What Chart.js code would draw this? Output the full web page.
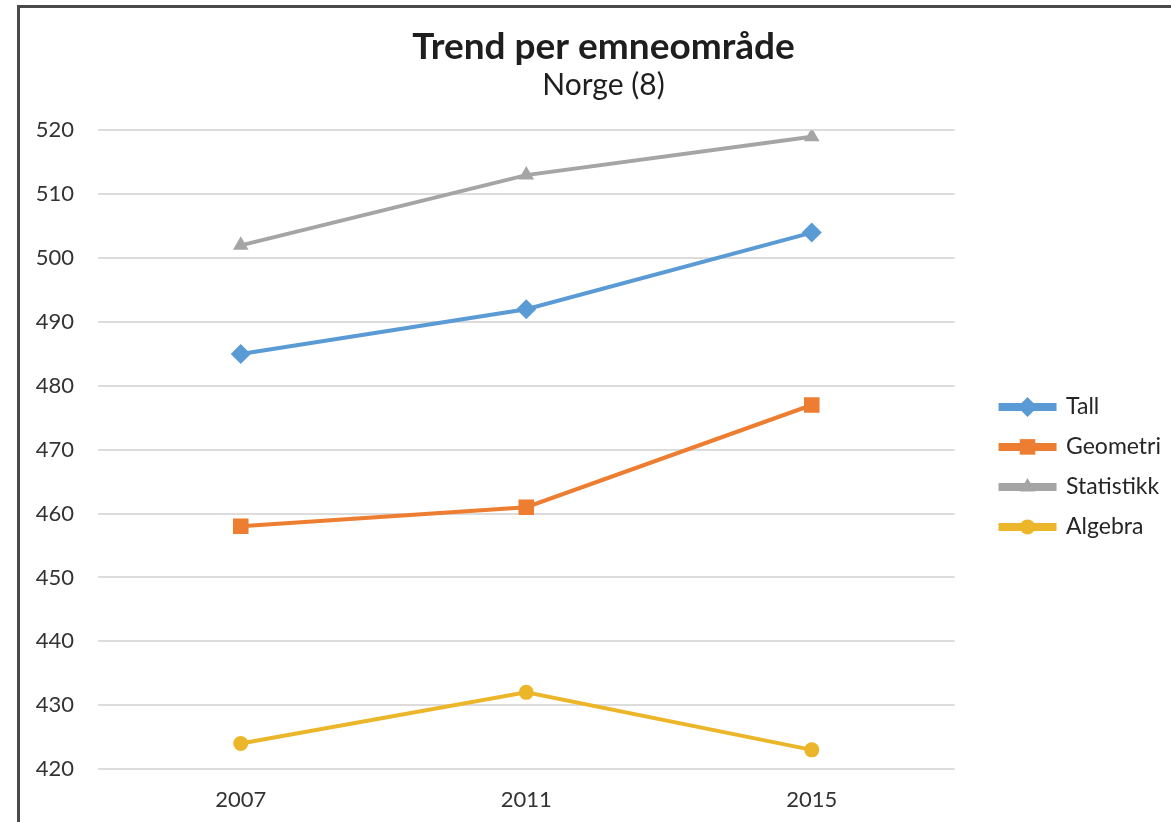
<!DOCTYPE html>
<html>
<head>
<meta charset="utf-8">
<script src="https://cdn.jsdelivr.net/npm/chart.js@4.4.1/dist/chart.umd.min.js"></script>
<style>
  html, body { margin: 0; padding: 0; background: #fff; }
  #wrap { position: relative; width: 1171px; height: 822px; overflow: hidden; }
  #frame { position: absolute; left: 17px; top: 5px; width: 1200px; height: 900px; border: 3px solid #4a4a4a; box-sizing: border-box; }
  canvas { position: absolute; left: 0; top: 0; }
</style>
</head>
<body>
<div id="wrap">
  <div id="frame"></div>
  <canvas id="trend" width="1171" height="822"></canvas>
</div>
<script>
// data
var years = ['2007', '2011', '2015'];
var tall = [485, 492, 504];
var geometri = [458, 461, 477];
var statistikk = [502, 513, 519];
var algebra = [424, 432, 423];

var FONT = 'Lato, "Open Sans", sans-serif';

function serie(label, data, color, style, radius) {
  return {
    label: label,
    data: data,
    borderColor: color,
    backgroundColor: color,
    borderWidth: 4,
    pointStyle: style,
    pointRadius: radius,
    pointHoverRadius: radius,
    pointBorderWidth: 0,
    tension: 0
  };
}

// puts the series marker in the middle of each legend line
var legendMarkers = {
  id: 'legendMarkers',
  afterDraw: function (chart) {
    var lg = chart.legend;
    if (!lg || !lg.legendHitBoxes) return;
    var c = chart.ctx;
    lg.legendHitBoxes.forEach(function (box, i) {
      var ds = chart.data.datasets[i];
      c.save();
      c.fillStyle = ds.backgroundColor;
      c.strokeStyle = ds.backgroundColor;
      Chart.helpers.drawPoint(c, {
        pointStyle: ds.pointStyle,
        radius: ds.pointRadius,
        rotation: 0,
        borderWidth: 0
      }, box.left + 27, box.top + box.height / 2);
      c.restore();
    });
  }
};

var ctx = document.getElementById('trend').getContext('2d');
var chart = new Chart(ctx, {
  type: 'line',
  data: {
    labels: years,
    datasets: [
      serie('Tall', tall, '#5b9bd5', 'rectRot', 10),
      serie('Geometri', geometri, '#ed7d31', 'rect', 11),
      serie('Statistikk', statistikk, '#a5a5a5', 'triangle', 9),
      serie('Algebra', algebra, '#ecb62a', 'circle', 7.5)
    ]
  },
  plugins: [legendMarkers],
  options: {
    responsive: false,
    animation: false,
    layout: { padding: { left: 36, right: 0, top: 14, bottom: 13 } },
    plugins: {
      title: {
        display: true,
        text: 'Trend per emneområde',
        color: '#1e1e1e',
        font: { family: FONT, size: 37, weight: 'bold' },
        padding: { top: 11, bottom: 1 }
      },
      subtitle: {
        display: true,
        text: 'Norge (8)',
        color: '#1e1e1e',
        font: { family: FONT, size: 30, lineHeight: 1.0 },
        padding: { top: 0, bottom: 30 }
      },
      legend: {
        position: 'right',
        fullSize: false,
        title: { display: true, text: ' ', font: { size: 12 }, padding: { top: 10, bottom: 10 } },
        labels: {
          boxWidth: 54,
          boxHeight: 4,
          padding: 17,
          color: '#262626',
          font: { family: FONT, size: 23 }
        }
      },
      tooltip: { enabled: false }
    },
    scales: {
      x: {
        offset: true,
        grid: { display: false, drawTicks: false },
        border: { display: false },
        afterFit: function (scale) { scale.height = 40; },
        ticks: { color: '#333333', padding: 18, font: { family: FONT, size: 22 } }
      },
      y: {
        min: 420,
        max: 520,
        afterFit: function (scale) { scale.width = 62; },
        grid: { color: '#dcdcdc', lineWidth: 2, drawTicks: false },
        border: { display: false },
        ticks: { stepSize: 10, color: '#333333', padding: 24, font: { family: FONT, size: 22 } }
      },
      gap: {
        type: 'linear',
        position: 'right',
        grid: { display: false, drawTicks: false },
        border: { display: false },
        ticks: { display: false },
        afterFit: function (scale) { scale.width = 29; }
      }
    }
  }
});
</script>
</body>
</html>
